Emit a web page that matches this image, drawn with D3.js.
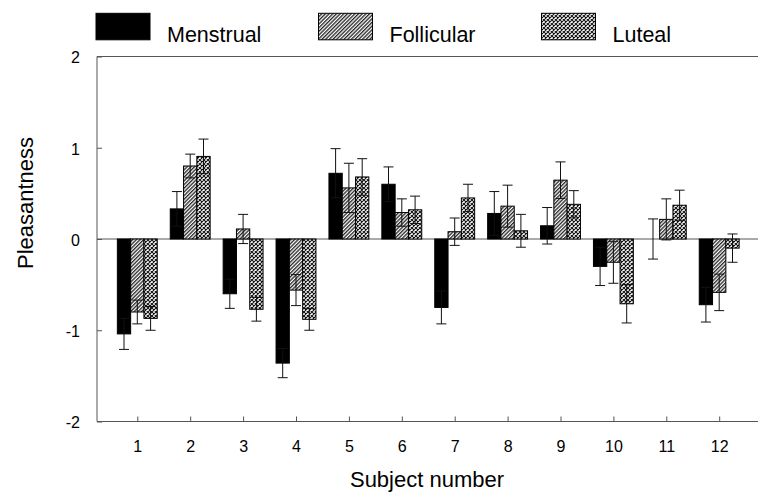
<!DOCTYPE html>
<html>
<head>
<meta charset="utf-8">
<script src="https://cdn.jsdelivr.net/npm/d3@7"></script>
<style>
  html, body { margin: 0; padding: 0; background: #fff; }
  svg { display: block; font-family: "Liberation Sans", Arial, Helvetica, sans-serif; }
</style>
</head>
<body>
<svg id="chart" width="758" height="493"></svg>
<script>
// Mean pleasantness per subject in each cycle phase, with standard errors
const subjects = [1, 2, 3, 4, 5, 6, 7, 8, 9, 10, 11, 12];
const phases = ["Menstrual", "Follicular", "Luteal"];
const menstrual     = [-1.04, 0.33, -0.60, -1.36, 0.72, 0.60, -0.75, 0.28, 0.145, -0.30, 0.00, -0.72];
const menstrualErr  = [0.17, 0.19, 0.16, 0.16, 0.27, 0.19, 0.18, 0.24, 0.20, 0.21, 0.22, 0.19];
const follicular    = [-0.80, 0.80, 0.11, -0.56, 0.56, 0.29, 0.08, 0.36, 0.645, -0.255, 0.215, -0.585];
const follicularErr = [0.13, 0.13, 0.16, 0.17, 0.27, 0.15, 0.15, 0.23, 0.20, 0.23, 0.225, 0.20];
const luteal        = [-0.87, 0.905, -0.77, -0.88, 0.68, 0.32, 0.45, 0.09, 0.38, -0.71, 0.37, -0.10];
const lutealErr     = [0.13, 0.19, 0.13, 0.12, 0.20, 0.15, 0.15, 0.18, 0.15, 0.21, 0.165, 0.155];
const yTicks = [-2, -1, 0, 1, 2];

const seriesValues = [menstrual, follicular, luteal];
const seriesErrors = [menstrualErr, follicularErr, lutealErr];

const svg = d3.select("#chart");
const axisColor = "#555";
const intLabel = d => String(d); // plain hyphen-minus for negatives

const plot = { left: 97, right: 758, top: 56.5, bottom: 421.5 };

const x = d3.scaleLinear().domain([1, 12]).range([137.3, 719.2]);
const y = d3.scaleLinear().domain([-2, 2]).range([plot.bottom, plot.top]);
const barW = 13.3;
const offset = d3.scaleBand().domain(phases).range([-1.5 * barW, 1.5 * barW]);

// fill patterns
const defs = svg.append("defs");
const hatch = defs.append("pattern")
  .attr("id", "hatch").attr("patternUnits", "userSpaceOnUse")
  .attr("width", 2.6).attr("height", 2.6)
  .attr("patternTransform", "rotate(45)");
hatch.append("rect").attr("width", 2.6).attr("height", 2.6).attr("fill", "#fff");
hatch.append("rect").attr("width", 1.35).attr("height", 2.6).attr("fill", "#2a2a2a");

const cross = defs.append("pattern")
  .attr("id", "cross").attr("patternUnits", "userSpaceOnUse")
  .attr("width", 4).attr("height", 4);
cross.append("rect").attr("width", 4).attr("height", 4).attr("fill", "#fff");
cross.append("path").attr("d", "M0,0 L4,4 M4,0 L0,4")
  .attr("stroke", "#111").attr("stroke-width", 1.05);

const fills = { Menstrual: "#000", Follicular: "url(#hatch)", Luteal: "url(#cross)" };

// frame: top line and zero line
svg.append("line")
  .attr("x1", plot.left).attr("x2", plot.right)
  .attr("y1", plot.top).attr("y2", plot.top)
  .attr("stroke", axisColor).attr("stroke-width", 1);
svg.append("line")
  .attr("x1", plot.left).attr("x2", plot.right)
  .attr("y1", y(0)).attr("y2", y(0))
  .attr("stroke", axisColor).attr("stroke-width", 1);

// bars
const rows = [];
phases.forEach((p, si) => {
  subjects.forEach((s, i) => {
    rows.push({ phase: p, subject: s, value: seriesValues[si][i], err: seriesErrors[si][i] });
  });
});

svg.append("g").selectAll("rect")
  .data(rows.filter(d => d.value !== 0))
  .join("rect")
  .attr("x", d => x(d.subject) + offset(d.phase))
  .attr("width", barW)
  .attr("y", d => y(Math.max(0, d.value)))
  .attr("height", d => Math.abs(y(d.value) - y(0)))
  .attr("fill", d => fills[d.phase])
  .attr("stroke", "#000")
  .attr("stroke-width", 1);

// error bars
const capW = 10;
const eb = svg.append("g").attr("stroke", "#111").attr("stroke-width", 1);
rows.forEach(d => {
  const cx = x(d.subject) + offset(d.phase) + barW / 2;
  const y1 = y(d.value + d.err), y2 = y(d.value - d.err);
  eb.append("line").attr("x1", cx).attr("x2", cx).attr("y1", y1).attr("y2", y2);
  eb.append("line").attr("x1", cx - capW / 2).attr("x2", cx + capW / 2).attr("y1", y1).attr("y2", y1);
  eb.append("line").attr("x1", cx - capW / 2).attr("x2", cx + capW / 2).attr("y1", y2).attr("y2", y2);
});

// axes
const yAxis = svg.append("g")
  .attr("transform", `translate(${plot.left},0)`)
  .call(d3.axisLeft(y).tickValues(yTicks).tickFormat(intLabel).tickSize(-5).tickPadding(17));
yAxis.select(".domain").attr("d", `M0,${plot.top}V${plot.bottom}`);

const xAxis = svg.append("g")
  .attr("transform", `translate(0,${plot.bottom})`)
  .call(d3.axisBottom(x).tickValues(subjects).tickFormat(intLabel).tickSize(-5).tickPadding(19));
xAxis.select(".domain").attr("d", `M${plot.left},0H${plot.right}`);

[yAxis, xAxis].forEach(g => {
  g.selectAll(".domain, .tick line").attr("stroke", axisColor);
  g.selectAll("text").attr("fill", "#000").attr("font-size", 16)
    .attr("font-family", "Liberation Sans, Arial, sans-serif");
});
yAxis.selectAll("text").attr("dy", "0.4em");

// axis titles
svg.append("text")
  .attr("transform", "translate(33,203) rotate(-90)")
  .attr("text-anchor", "middle").attr("font-size", 22).attr("fill", "#000")
  .text("Pleasantness");
svg.append("text")
  .attr("x", 427).attr("y", 487)
  .attr("text-anchor", "middle").attr("font-size", 22).attr("fill", "#000")
  .text("Subject number");

// legend
const legendX = { Menstrual: 96, Follicular: 318.5, Luteal: 541.5 };
const legend = svg.append("g");
phases.forEach(p => {
  legend.append("rect")
    .attr("x", legendX[p]).attr("y", 13.3)
    .attr("width", 54).attr("height", 26.5)
    .attr("fill", fills[p]).attr("stroke", "#000").attr("stroke-width", 1);
  legend.append("text")
    .attr("x", legendX[p] + 71).attr("y", 41.5)
    .attr("font-size", 21.5).attr("fill", "#000")
    .text(p);
});
</script>
</body>
</html>
